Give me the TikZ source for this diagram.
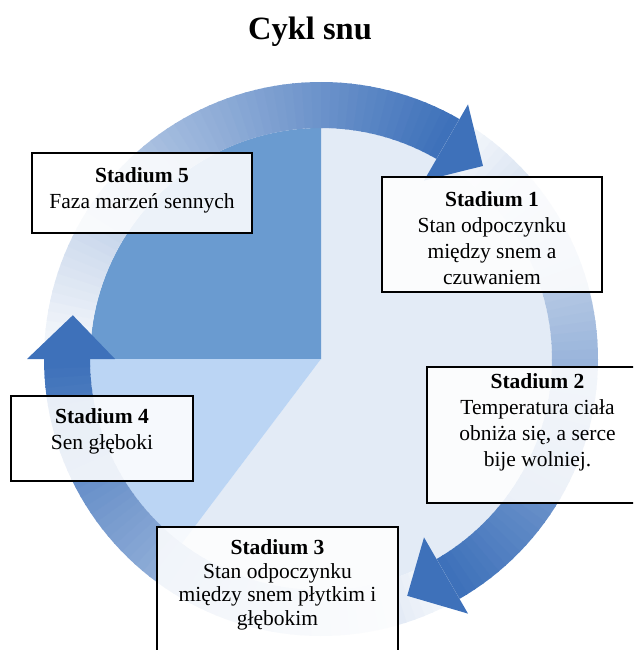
\documentclass[tikz,border=0pt]{standalone}
\usepackage{fontspec}
\setmainfont{Liberation Serif}
\usepackage{xcolor}
\definecolor{arrowBlue}{RGB}{62,113,186}
\definecolor{pieDark}{RGB}{106,155,208}
\definecolor{pieMid}{RGB}{187,213,244}
\definecolor{pieLight}{RGB}{227,235,246}

\tikzset{
  stagebox/.style={draw=black, line width=1.3pt, fill=white, fill opacity=0.88, inner sep=0pt},
  stagetext/.style={align=center, inner sep=0pt, font=\fontsize{21.5}{26}\selectfont},
}

\begin{document}
\begin{tikzpicture}[x=1pt,y=1pt,yscale=-1]
    \useasboundingbox (0,0) rectangle (633,650);
    \clip (0,0) rectangle (633,650);

    % Title
    \node [font=\fontsize{32.5}{39}\selectfont\bfseries, anchor=base, inner sep=0pt] (title) at (310,40) {Cykl snu};

    \begin{scope}[shift={(321,359)},yscale=-1]
    %Shape: Pie
    \fill [pieLight] (0,0) -- (90:231) arc [start angle=90, end angle=-127, radius=231] -- cycle;
    \fill [pieDark] (0,0) -- (90:231) arc [start angle=90, end angle=180, radius=231] -- cycle;
    \fill [pieMid] (0,0) -- (180:231) arc [start angle=180, end angle=233, radius=231] -- cycle;
    %Shape: Ring arrows, shafts
    \foreach \b in {60,-60,180}{
      \foreach \k in {0,...,59}{
        \pgfmathsetmacro{\aa}{\b+120-2*\k}
        \pgfmathsetmacro{\ab}{\b+120-2*\k-2.4}
        \pgfmathsetmacro{\pc}{4+96*\k/59}
        \fill [arrowBlue!\pc!white] (\aa:231) arc [start angle=\aa, end angle=\ab, radius=231] -- (\ab:277) arc [start angle=\ab, end angle=\aa, radius=277] -- cycle;
      }
    }
    %Shape: Ring arrows, heads
    \foreach \b in {60,-60,180}
      \fill [arrowBlue] (\b:206) -- (\b-10:252) -- (\b:294) -- cycle;
    \end{scope}

    %Shape: Boxes
    \node [stagebox, minimum width=220pt, minimum height=115pt] (box1) at (492,234.5) {};
    \node [stagebox, minimum width=221pt, minimum height=136pt] (box2) at (537.5,435) {};
    \node [stagebox, minimum width=241pt, minimum height=136pt] (box3) at (277.5,595) {};
    \node [stagebox, minimum width=182pt, minimum height=85pt] (box4) at (102,438.5) {};
    \node [stagebox, minimum width=220pt, minimum height=80pt] (box5) at (142,193) {};

    % Text Node
    \node [stagetext] (s1) at (492,238.5) {\textbf{Stadium 1}\\Stan odpoczynku\\między snem a\\czuwaniem};
    % Text Node
    \node [stagetext] (s2) at (537.5,422) {\textbf{Stadium 2}\\Temperatura ciała\\obniża się, a serce\\bije wolniej.};
    % Text Node
    \node [stagetext, font=\fontsize{21.5}{23.5}\selectfont] (s3) at (277.5,585) {\textbf{Stadium 3}\\Stan odpoczynku\\między snem płytkim i\\głębokim};
    % Text Node
    \node [stagetext] (s4) at (102,431.5) {\textbf{Stadium 4}\\Sen głęboki};
    % Text Node
    \node [stagetext] (s5) at (142,190.5) {\textbf{Stadium 5}\\Faza marzeń sennych};
\end{tikzpicture}
\end{document}
